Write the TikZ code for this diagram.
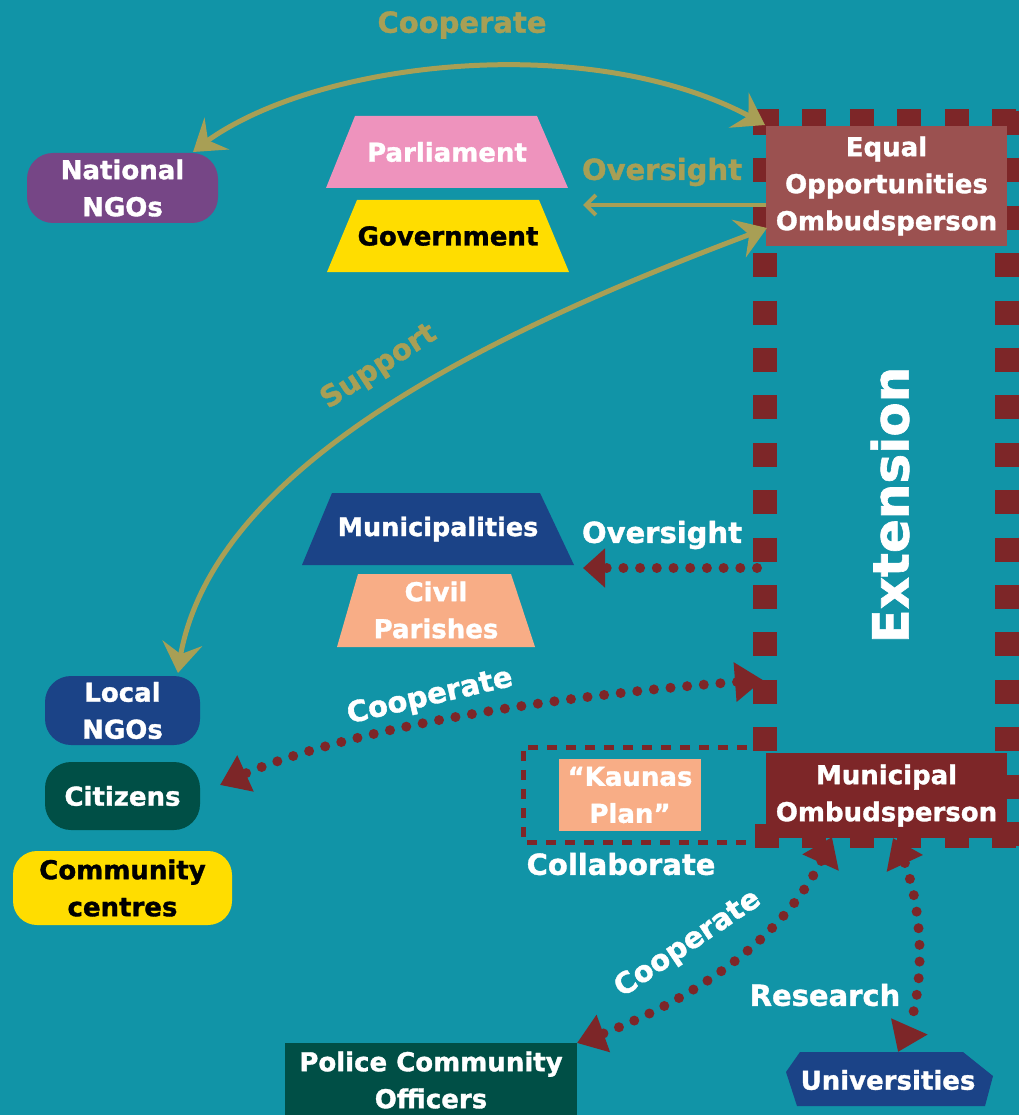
\documentclass[tikz,border=0pt]{standalone}
\usepackage{fontspec}
\setmainfont{DejaVu Sans}[BoldFeatures={FakeBold=1.3}]
\usetikzlibrary{arrows.meta,bending}
\definecolor{bg}{RGB}{17,148,167}
\definecolor{olive}{RGB}{168,159,85}
\definecolor{dred}{RGB}{125,38,40}
\definecolor{eqred}{RGB}{155,81,80}
\definecolor{pinkc}{RGB}{238,147,189}
\definecolor{yell}{RGB}{255,221,0}
\definecolor{purp}{RGB}{118,70,134}
\definecolor{navy}{RGB}{27,67,135}
\definecolor{salm}{RGB}{248,173,134}
\definecolor{dgreen}{RGB}{0,79,70}
\tikzset{
  txt/.style={font=\bfseries\fontsize{26}{37}\selectfont, align=center, text=white, inner sep=0pt},
  boxn/.style={txt, draw=none},
  lab/.style={font=\bfseries\fontsize{29}{30}\selectfont, inner sep=0pt},
  oline/.style={draw=olive, line width=5pt},
  dline/.style={draw=dred, line width=10pt, line cap=round, dash pattern=on 0pt off 16.7pt},
  extdash/.style={draw=dred, line width=24pt, dash pattern=on 24pt off 23.4pt},
}
\begin{document}
\begin{tikzpicture}[x=1pt,y=-1pt]
\fill[bg] (0,0) rectangle (1019,1115);
\useasboundingbox (0,0) rectangle (1019,1115);

% Extension frame
\draw[extdash] (755,121) -- (1019,121);
\draw[extdash] (765,111) -- (765,752);
\draw[extdash] (1007,111) -- (1007,855);
\draw[extdash] (755,836) -- (1019,836);
\node[lab, text=white, font=\bfseries\fontsize{50}{52}\selectfont, rotate=90] (ext) at (890,505) {Extension};

% Kaunas dashed frame
\draw[draw=dred, line width=5pt, dash pattern=on 10pt off 9pt] (766,747) -- (523,747) -- (523,842) -- (766,842);

% boxes
\node[boxn, fill=eqred, minimum width=241pt, minimum height=120pt] (eq) at (886.5,186) {Equal\\Opportunities\\Ombudsperson};
\node[boxn, fill=dred, minimum width=241pt, minimum height=85pt] (mo) at (886.5,795.5) {Municipal\\Ombudsperson};

\fill[pinkc] (355,116) -- (537,116) -- (568,188) -- (326,188) -- cycle;
\node[txt] (parl) at (447,152) {Parliament};
\fill[yell] (357,200) -- (539,200) -- (569,272) -- (327,272) -- cycle;
\node[txt, text=black] (gov) at (448,236) {Government};
\fill[navy] (332,493) -- (540,493) -- (574,565) -- (302,565) -- cycle;
\node[txt, font=\bfseries\fontsize{25.5}{37}\selectfont] (muni) at (438,529) {Municipalities};
\fill[salm] (358,574) -- (511,574) -- (535,647) -- (337,647) -- cycle;
\node[txt] (civ) at (436,610) {Civil\\Parishes};

\node[boxn, fill=purp, rounded corners=26pt, minimum width=191pt, minimum height=70pt] (nngo) at (122.5,188) {National\\NGOs};
\node[boxn, fill=navy, rounded corners=26pt, minimum width=155pt, minimum height=69pt] (lngo) at (122.5,710.5) {Local\\NGOs};
\node[boxn, fill=dgreen, rounded corners=26pt, minimum width=155pt, minimum height=68pt] (cit) at (122.5,796) {Citizens};
\node[boxn, fill=yell, text=black, rounded corners=24pt, minimum width=219pt, minimum height=74pt] (cc) at (122.5,888) {Community\\centres};
\node[boxn, fill=salm, minimum width=142pt, minimum height=72pt] (kp) at (630,795) {“Kaunas\\Plan”};
\node[boxn, fill=dgreen, minimum width=292pt, minimum height=74pt] (pco) at (431,1080) {Police Community\\Officers};
\fill[navy] (786,1072) -- (800,1052) -- (963,1052) -- (993,1076) -- (985,1106) -- (797,1106) -- cycle;
\node[txt] (uni) at (888,1080) {Universities};

% anchor coordinates
\coordinate (nngoT) at (193,152);
\coordinate (eqTL) at (765,125);
\coordinate (ovS) at (766,205);
\coordinate (ovE) at (583,205);
\coordinate (supS) at (767,228);
\coordinate (supE) at (178,673);
\coordinate (rovS) at (757,568);
\coordinate (rovE) at (583,568);
\coordinate (cmS) at (763,680);
\coordinate (cmE) at (220,785);
\coordinate (mcS) at (832,837);
\coordinate (pcE) at (577,1043);
\coordinate (rsS) at (893,838);
\coordinate (unN) at (898,1052);

% olive connectors
\draw[oline, {Stealth[length=30pt,width=40pt,inset=11pt]}-{Stealth[length=30pt,width=40pt,inset=11pt]}] (nngoT) .. controls (300,60) and (600,25) .. (eqTL);
\draw[olive, line width=4pt, -{Straight Barb[length=10pt,width=20pt]}] (ovS) -- (ovE);
\draw[oline, {Stealth[length=30pt,width=40pt,inset=11pt]}-{Stealth[length=30pt,width=40pt,inset=11pt]}] (supS) .. controls (520,320) and (200,460) .. (supE);

% red dotted connectors
\draw[dline, -{Triangle[length=22pt,width=38pt]}] (rovS) -- (rovE);
\draw[dline, {Triangle[length=28pt,width=38pt]}-{Triangle[length=28pt,width=38pt]}] (cmS) .. controls (550,695) and (330,730) .. (cmE);
\draw[dline, {Triangle[length=28pt,width=38pt]}-{Triangle[length=28pt,width=38pt]}] (mcS) .. controls (795,935) and (690,1005) .. (pcE);
\draw[dline, {Triangle[length=28pt,width=38pt]}-{Triangle[length=28pt,width=38pt]}] (rsS) .. controls (925,890) and (930,1000) .. (unN);

% labels
\node[lab, text=olive] (lcoop1) at (462,25) {Cooperate};
\node[lab, text=olive] (lover1) at (662,172) {Oversight};
\node[lab, text=olive, rotate=33] (lsup) at (379,367) {Support};
\node[lab, text=white] (lover2) at (662,535) {Oversight};
\node[lab, text=white, rotate=13] (lcoop2) at (430,697) {Cooperate};
\node[lab, text=white] (lcoll) at (621,864) {Collaborate};
\node[lab, text=white, rotate=34] (lcoop3) at (688,944) {Cooperate};
\node[lab, text=white] (lres) at (825,995) {Research};
\end{tikzpicture}
\end{document}
